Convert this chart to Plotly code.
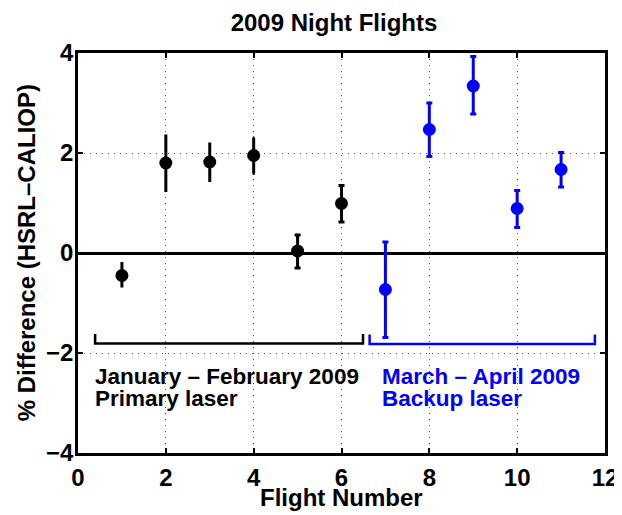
import plotly.graph_objects as go

flight = [1, 2, 3, 4, 5, 6, 7, 8, 9, 10, 11]
diff = [-0.45, 1.80, 1.82, 1.95, 0.04, 0.99, -0.73, 2.47, 3.34, 0.89, 1.67]
err_plus = [0.27, 0.57, 0.39, 0.35, 0.32, 0.36, 0.95, 0.53, 0.59, 0.36, 0.34]
err_minus = [0.24, 0.58, 0.40, 0.36, 0.34, 0.37, 0.96, 0.54, 0.56, 0.38, 0.35]

# groups: (indices, colour, error-bar cap half-width)
groups = [
    ([0, 1, 2], "black", 0),
    ([3], "black", 1),
    ([4, 5], "black", 3),
    ([6, 7, 8, 9, 10], "#0000FF", 3),
]

x_ticks = [0, 2, 4, 6, 8, 10, 12]
y_ticks = [-4, -2, 0, 2, 4]

FONT = "Liberation Sans, Arial, sans-serif"
BLUE = "#0000FF"

fig = go.Figure()

for idx, color, cap in groups:
    fig.add_trace(go.Scatter(
        x=[flight[i] for i in idx],
        y=[diff[i] for i in idx],
        mode="markers",
        marker=dict(color=color, size=13),
        error_y=dict(type="data", symmetric=False,
                     array=[err_plus[i] for i in idx],
                     arrayminus=[err_minus[i] for i in idx],
                     color=color, thickness=3, width=cap),
        showlegend=False,
    ))

# brackets
fig.add_shape(type="path", path="M 0.39,-1.62 L 0.39,-1.81 L 6.49,-1.81 L 6.49,-1.62",
              line=dict(color="black", width=2.5), xref="x", yref="y")
fig.add_shape(type="path", path="M 6.64,-1.63 L 6.64,-1.82 L 11.77,-1.82 L 11.77,-1.63",
              line=dict(color=BLUE, width=2.5), xref="x", yref="y")

for txt, x, y, col in [
    ("<b>January – February 2009</b>", 0.35, -2.46, "black"),
    ("<b>Primary laser</b>", 0.35, -2.91, "black"),
    ("<b>March – April 2009</b>", 6.87, -2.46, BLUE),
    ("<b>Backup laser</b>", 6.87, -2.91, BLUE),
]:
    fig.add_annotation(x=x, y=y, text=txt, showarrow=False, xanchor="left",
                       yanchor="middle", font=dict(family=FONT, size=22.5, color=col))

# axis titles
fig.add_annotation(x=0.5, xref="paper", y=-0.11, yref="paper", text="<b>Flight Number</b>",
                   showarrow=False, xanchor="center", yanchor="middle",
                   font=dict(family=FONT, size=24, color="black"))
fig.add_annotation(x=-0.098, xref="paper", y=0.5, yref="paper", text="<b>% Difference (HSRL–CALIOP)</b>",
                   showarrow=False, xanchor="center", yanchor="middle", textangle=-90,
                   font=dict(family=FONT, size=24, color="black"))

axis_common = dict(
    showline=True, linecolor="black", linewidth=2.5, mirror="ticks",
    ticks="inside", ticklen=5, tickwidth=2, tickcolor="black",
    showgrid=True, gridcolor="#555555", griddash="1px,5px", gridwidth=1,
    tickfont=dict(family=FONT, size=24, color="black"),
    automargin=False,
)

fig.update_xaxes(range=[0, 12], tickvals=x_ticks,
                 ticktext=[f"<b>{v}</b>" for v in x_ticks],
                 zeroline=False, ticklabelstandoff=1, **axis_common)
fig.update_yaxes(range=[-4, 4], tickvals=y_ticks,
                 ticktext=[f"<b>{'−' if v < 0 else ''}{abs(v)}</b>" for v in y_ticks],
                 zeroline=True, zerolinecolor="black", zerolinewidth=2.5,
                 ticklabelstandoff=-3, **axis_common)

fig.update_layout(
    width=614, height=507,
    margin=dict(l=70, r=17, t=45, b=62, autoexpand=False),
    plot_bgcolor="white", paper_bgcolor="white",
    title=dict(text="<b>2009 Night Flights</b>", x=0.531, xanchor="center", y=0.972, yanchor="middle",
               font=dict(family=FONT, size=24, color="black")),
    font=dict(family=FONT),
)

fig.write_html("out.html")
